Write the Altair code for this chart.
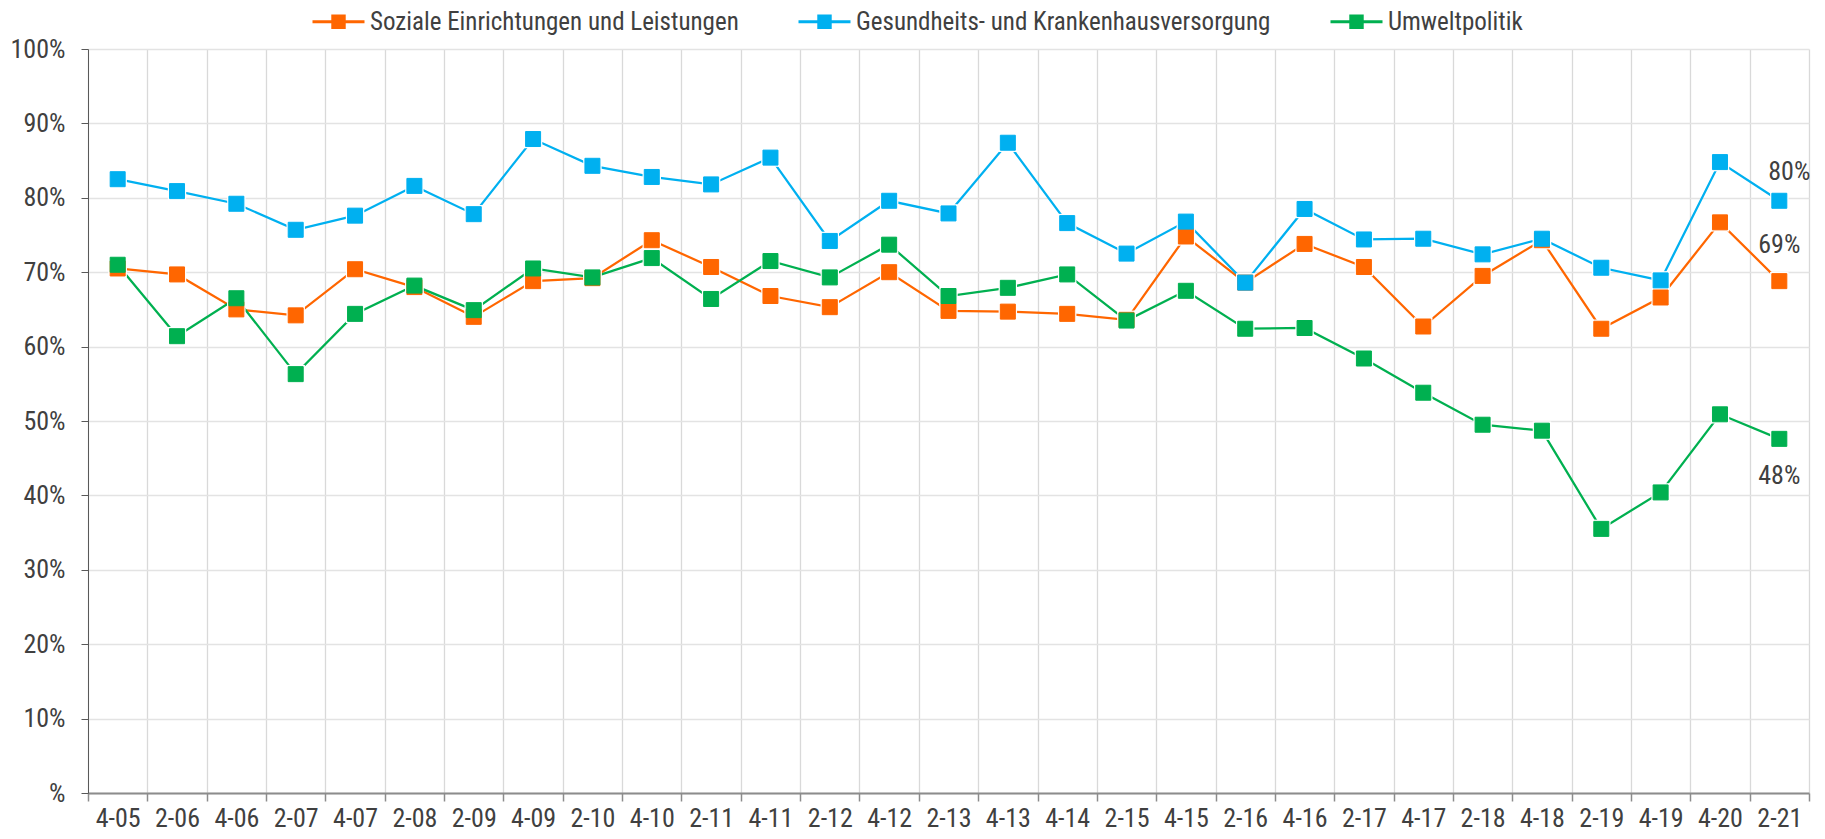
import altair as alt
import pandas as pd

categories = ["4-05", "2-06", "4-06", "2-07", "4-07", "2-08", "2-09", "4-09", "2-10", "4-10",
              "2-11", "4-11", "2-12", "4-12", "2-13", "4-13", "4-14", "2-15", "4-15", "2-16",
              "4-16", "2-17", "4-17", "2-18", "4-18", "2-19", "4-19", "4-20", "2-21"]

series_names = ["Soziale Einrichtungen und Leistungen",
                "Gesundheits- und Krankenhausversorgung",
                "Umweltpolitik"]

soziale = [70.5, 69.7, 65.0, 64.2, 70.4, 68.0, 64.0, 68.8, 69.2, 74.3,
           70.7, 66.8, 65.3, 70.0, 64.8, 64.7, 64.4, 63.6, 74.8, 68.6,
           73.8, 70.7, 62.7, 69.5, 74.3, 62.4, 66.6, 76.7, 68.8]

gesundheit = [82.5, 80.9, 79.2, 75.7, 77.6, 81.6, 77.8, 87.9, 84.3, 82.8,
              81.8, 85.4, 74.2, 79.6, 77.9, 87.4, 76.6, 72.5, 76.8, 68.6,
              78.5, 74.4, 74.5, 72.4, 74.5, 70.6, 68.9, 84.8, 79.6]

umwelt = [71.0, 61.4, 66.5, 56.3, 64.4, 68.2, 64.9, 70.5, 69.3, 71.9,
          66.4, 71.5, 69.3, 73.7, 66.8, 67.9, 69.7, 63.5, 67.5, 62.4,
          62.5, 58.4, 53.8, 49.5, 48.7, 35.5, 40.4, 50.9, 47.6]

colors = ["#FF6600", "#00B0F0", "#00B050"]

rows = []
for name, vals in zip(series_names, [soziale, gesundheit, umwelt]):
    for i, (c, v) in enumerate(zip(categories, vals)):
        rows.append({"cat": c, "series": name, "value": v, "idx": i})
df = pd.DataFrame(rows)

FONT = "Roboto Condensed, Liberation Sans, sans-serif"
TXT = "#404040"

x_enc = alt.X(
    "cat:N", sort=categories,
    scale=alt.Scale(type="band", paddingInner=0, paddingOuter=0),
    axis=alt.Axis(title=None, labelAngle=0, tickBand="extent", grid=True,
                  gridColor="#d9d9d9", gridWidth=1.3,
                  domainColor="#8c8c8c", domainWidth=2,
                  tickColor="#8c8c8c", tickSize=8, tickWidth=1.5,
                  labelFont=FONT, labelFontSize=26, labelColor=TXT,
                  labelPadding=4),
)
y_enc = alt.Y(
    "value:Q",
    scale=alt.Scale(domain=[0, 100], nice=False, zero=True),
    axis=alt.Axis(title=None, values=list(range(0, 101, 10)),
                  labelExpr="datum.value == 0 ? '%' : datum.value + '%'",
                  grid=True, gridColor="#e3e3e3", gridWidth=1.5,
                  domainColor="#595959", domainWidth=1,
                  tickColor="#595959", tickSize=7, tickWidth=1,
                  labelFont=FONT, labelFontSize=26, labelColor=TXT,
                  labelPadding=16),
)

legend = alt.Legend(
    title=None, orient="none", legendX=223, legendY=-55, direction="horizontal",
    symbolType="M-1,0H1M-0.22,-0.22H0.22V0.22H-0.22Z",
    symbolSize=2704, symbolStrokeWidth=3,
    labelFont=FONT, labelFontSize=25, labelColor=TXT, labelOffset=4,
    labelLimit=0, columnPadding=53, padding=0,
)

color_scale = alt.Scale(domain=series_names, range=colors)
stroke_enc = alt.Stroke("series:N", scale=color_scale, legend=legend)
fill_enc = alt.Fill("series:N", scale=color_scale, legend=legend)

base = alt.Chart(df)

lines = base.mark_line(strokeWidth=2.25).encode(
    x=x_enc, y=y_enc, stroke=stroke_enc, order=alt.Order("idx:Q")
)
halo = base.mark_square(size=340, color="white", opacity=1).encode(x=x_enc, y=y_enc)
points = base.mark_square(size=225, strokeWidth=1, opacity=1, filled=True).encode(
    x=x_enc, y=y_enc, fill=fill_enc, stroke=stroke_enc
)


def end_label(name, dx, dy):
    return (
        base.transform_filter((alt.datum.series == name) & (alt.datum.cat == categories[-1]))
        .transform_calculate(label="format(datum.value, '.0f') + '%'")
        .mark_text(dx=dx, dy=dy, font=FONT, fontSize=26, color=TXT)
        .encode(x=x_enc, y=y_enc, text="label:N")
    )


chart = alt.layer(
    lines, halo, points,
    end_label(series_names[1], 10, -29),
    end_label(series_names[0], 0, -36),
    end_label(series_names[2], 0, 37),
).properties(
    width=1721, height=744,
    padding={"left": 80, "top": 41, "right": 8, "bottom": 38},
    autosize=alt.AutoSizeParams(type="none"),
).configure_view(stroke=None)

chart.save("out.html", embed_options={"renderer": "svg", "actions": False})
